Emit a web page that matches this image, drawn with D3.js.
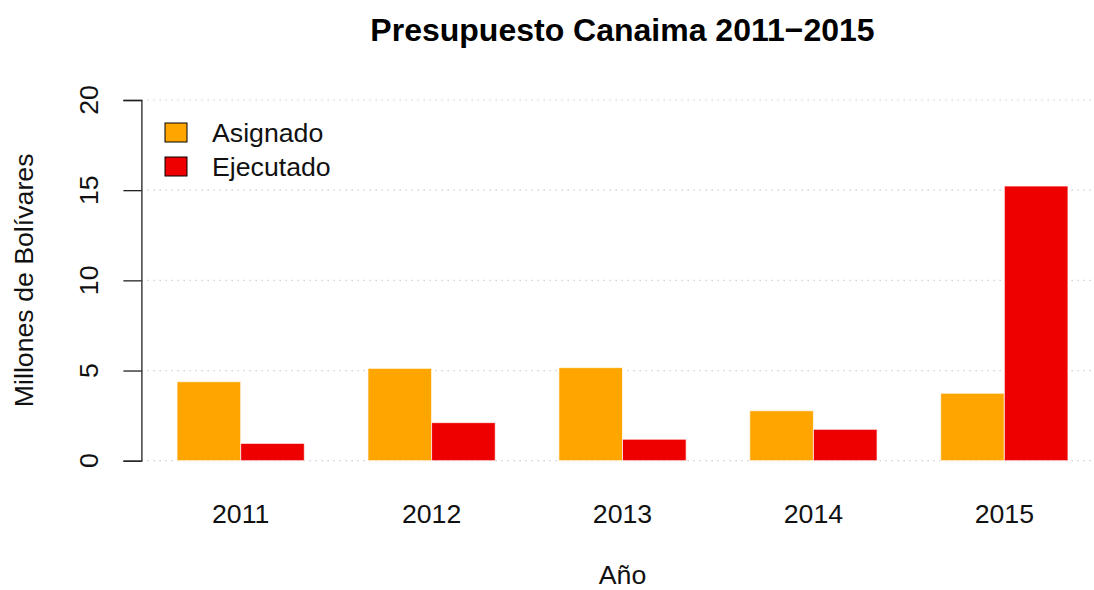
<!DOCTYPE html>
<html>
<head>
<meta charset="utf-8">
<script src="https://cdn.jsdelivr.net/npm/d3@7"></script>
<style>
  html, body { margin: 0; padding: 0; background: #fff; }
  svg { display: block; font-family: "Liberation Sans", Arial, sans-serif; }
</style>
</head>
<body>
<svg id="chart" width="1094" height="590"></svg>
<script>
// data
const years = ["2011", "2012", "2013", "2014", "2015"];
const asignado = [4.38, 5.12, 5.16, 2.77, 3.74];
const ejecutado = [0.96, 2.11, 1.19, 1.74, 15.23];
const seriesNames = ["Asignado", "Ejecutado"];
const seriesColors = ["#FFA500", "#EE0000"];
const yTicks = [0, 5, 10, 15, 20];

const svg = d3.select("#chart");

// R-like barplot coordinates: each group = 2 bars + 1 space
const x = d3.scaleLinear().domain([0.44, 15.56]).range([141.4, 1103.6]);
const y = d3.scaleLinear().domain([0, 20]).range([460.7, 100]);

/* ---------- grid ---------- */
svg.append("g").selectAll("line")
  .data(yTicks)
  .enter().append("line")
  .attr("x1", x(0.44)).attr("x2", x(15.56))
  .attr("y1", d => y(d)).attr("y2", d => y(d))
  .attr("stroke", "#cfcfcf")
  .attr("stroke-width", 1.2)
  .attr("stroke-dasharray", "1.5,4.5");

/* ---------- bars ---------- */
const bars = [];
years.forEach((yr, i) => {
  [asignado[i], ejecutado[i]].forEach((v, j) => {
    bars.push({ left: 1 + 3 * i + j, value: v, color: seriesColors[j] });
  });
});

svg.append("g").selectAll("rect")
  .data(bars)
  .enter().append("rect")
  .attr("x", d => x(d.left))
  .attr("width", d => x(d.left + 1) - x(d.left))
  .attr("y", d => y(d.value))
  .attr("height", d => y(0) - y(d.value))
  .attr("fill", d => d.color)
  .attr("stroke", "#fff")
  .attr("stroke-opacity", 0.7)
  .attr("stroke-width", 1);

/* ---------- y axis ---------- */
const yAxis = svg.append("g")
  .attr("transform", `translate(${x(0.44)},0)`)
  .call(d3.axisLeft(y).tickValues(yTicks).tickSize(18).tickFormat(""));
yAxis.select(".domain").attr("stroke", "#222").attr("stroke-width", 1.3);
yAxis.selectAll(".tick line").attr("stroke", "#222").attr("stroke-width", 1.3);

svg.append("g").selectAll("text")
  .data(yTicks)
  .enter().append("text")
  .attr("transform", d => `translate(98,${y(d)}) rotate(-90)`)
  .attr("text-anchor", "middle")
  .attr("font-size", 26.7)
  .attr("fill", "#111")
  .text(d => d);

/* ---------- x labels ---------- */
svg.append("g").selectAll("text")
  .data(years)
  .enter().append("text")
  .attr("x", (d, i) => x(2 + 3 * i))
  .attr("y", 523)
  .attr("text-anchor", "middle")
  .attr("font-size", 26.7)
  .attr("fill", "#111")
  .text(d => d);

/* ---------- titles ---------- */
const midX = (x(0.44) + x(15.56)) / 2;

svg.append("text")
  .attr("x", midX).attr("y", 41)
  .attr("text-anchor", "middle")
  .attr("font-size", 32)
  .attr("font-weight", "bold")
  .attr("fill", "#000")
  .text("Presupuesto Canaima 2011\u22122015");

svg.append("text")
  .attr("x", midX).attr("y", 584)
  .attr("text-anchor", "middle")
  .attr("font-size", 26.7)
  .attr("fill", "#111")
  .text("Año");

svg.append("text")
  .attr("transform", `translate(33,${(y(0) + y(20)) / 2}) rotate(-90)`)
  .attr("text-anchor", "middle")
  .attr("font-size", 26.7)
  .attr("fill", "#111")
  .text("Millones de Bolívares");

/* ---------- legend ---------- */
const legend = svg.append("g").selectAll("g")
  .data(seriesNames)
  .enter().append("g")
  .attr("transform", (d, i) => `translate(165,${123 + i * 34})`);

legend.append("rect")
  .attr("width", 22).attr("height", 19)
  .attr("fill", (d, i) => seriesColors[i])
  .attr("stroke", "#000")
  .attr("stroke-width", 1);

legend.append("text")
  .attr("x", 47).attr("y", 19)
  .attr("font-size", 26.7)
  .attr("fill", "#111")
  .text(d => d);
</script>
</body>
</html>
